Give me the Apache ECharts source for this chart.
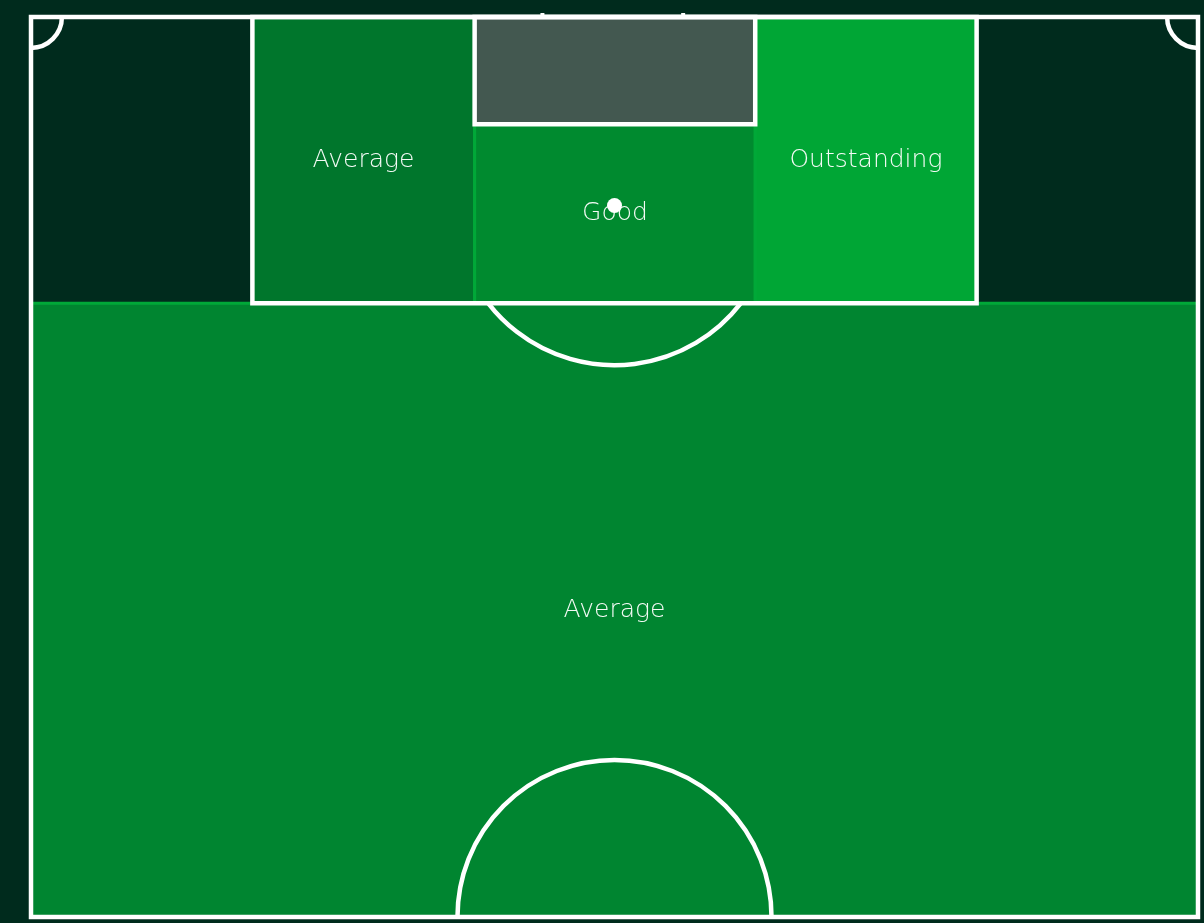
<!DOCTYPE html>
<html>
<head>
<meta charset="utf-8">
<script src="https://cdn.jsdelivr.net/npm/echarts@6/dist/echarts.min.js"></script>
<style>
	html, body { margin: 0; padding: 0; background: #002b1d; }
	#main { width: 1204px; height: 923px; }
</style>
</head>
<body>
<div id="main"></div>
<script>
	// zones of the attacking half, in pitch metres (x across, y from goal line)
	var zoneNames = ['Left channel', 'Central box', 'Right channel', 'Six-yard box', 'Outside box'];
	var zoneRatings = ['Average', 'Good', 'Outstanding', '', 'Average'];
	var zoneX0 = [12.9, 25.85, 42.2, 25.85, 0];
	var zoneX1 = [25.85, 42.2, 55.1, 42.2, 68];
	var zoneY0 = [0, 6.25, 0, 0, 16.7];
	var zoneY1 = [16.7, 16.7, 16.7, 6.25, 52.5];

	var zoneColors = ['#00762c', '#008a2f', '#00a635', '#435850', '#008530'];

	// pitch markings (metres)
	var pitchWidth = 68;
	var halfLength = 52.5;
	var penaltyBox = [12.9, 55.1, 16.7];
	var sixYardBox = [25.85, 42.2, 6.25];
	var penaltySpot = [34, 11];
	var arcRadius = 9.3;
	var centreRadius = 9.15;
	var cornerRadius = 1.8;
	var goalPosts = [29.8, 38.0];

	var zoneData = zoneNames.map(function (n, i) {
		return [zoneX0[i], zoneY0[i], zoneX1[i], zoneY1[i], zoneRatings[i], n];
	});

	var myChart = echarts.init(document.getElementById('main'));
	myChart.setOption({
		backgroundColor: '#002b1d',
		animation: false,
		grid: {
			left: 31,
			right: 6,
			top: 17,
			bottom: 6
		},
		xAxis: {
			type: 'value',
			min: 0,
			max: pitchWidth,
			show: false
		},
		yAxis: {
			type: 'value',
			min: 0,
			max: halfLength,
			inverse: true,
			show: false
		},
		tooltip: { show: false },
		series: [
			{
				name: 'zones',
				type: 'custom',
				data: zoneData,
				encode: { x: [0, 2], y: [1, 3] },
				renderItem: function (params, api) {
					var i = params.dataIndex;
					var p0 = api.coord([zoneX0[i], zoneY0[i]]);
					var p1 = api.coord([zoneX1[i], zoneY1[i]]);
					var x = Math.min(p0[0], p1[0]), y = Math.min(p0[1], p1[1]);
					var w = Math.abs(p1[0] - p0[0]), h = Math.abs(p1[1] - p0[1]);
					return {
						type: 'group',
						children: [
							{
								type: 'rect',
								shape: { x: x, y: y, width: w, height: h },
								style: {
									fill: zoneColors[i],
									stroke: zoneRatings[i] ? '#00a838' : null,
									lineWidth: 3
								}
							},
							{
								type: 'text',
								style: {
									text: zoneRatings[i],
									x: x + w / 2,
									y: y + h / 2,
									align: 'center',
									verticalAlign: 'middle',
									fill: '#f4fbf6',
									font: '200 25px "DejaVu Sans"'
								}
							}
						]
					};
				}
			},
			{
				name: 'pitch',
				type: 'custom',
				data: [[0, 0]],
				silent: true,
				renderItem: function (params, api) {
					var line = { fill: null, stroke: '#ffffff', lineWidth: 4.5 };
					function box(x0, x1, y0, y1) {
						var a = api.coord([x0, y0]), b = api.coord([x1, y1]);
						return {
							type: 'rect',
							shape: { x: a[0], y: a[1], width: b[0] - a[0], height: b[1] - a[1] },
							style: line
						};
					}
					var spot = api.coord(penaltySpot);
					var rArc = api.size([arcRadius, 0])[0];
					var dy = api.size([0, penaltyBox[2] - penaltySpot[1]])[1];
					var a0 = Math.asin(Math.min(1, dy / rArc));
					var centre = api.coord([pitchWidth / 2, halfLength]);
					var rCentre = api.size([centreRadius, 0])[0];
					var rCorner = api.size([cornerRadius, 0])[0];
					var tl = api.coord([0, 0]), tr = api.coord([pitchWidth, 0]);
					var g0 = api.coord([goalPosts[0], 0]), g1 = api.coord([goalPosts[1], 0]);
					return {
						type: 'group',
						children: [
							box(0, pitchWidth, 0, halfLength),
							box(penaltyBox[0], penaltyBox[1], 0, penaltyBox[2]),
							box(sixYardBox[0], sixYardBox[1], 0, sixYardBox[2]),
							{
								type: 'arc',
								shape: { cx: spot[0], cy: spot[1], r: rArc, startAngle: a0, endAngle: Math.PI - a0, clockwise: true },
								style: line
							},
							{
								type: 'arc',
								shape: { cx: centre[0], cy: centre[1], r: rCentre, startAngle: Math.PI, endAngle: 2 * Math.PI, clockwise: true },
								style: line
							},
							{
								type: 'arc',
								shape: { cx: tl[0], cy: tl[1], r: rCorner, startAngle: 0, endAngle: Math.PI / 2, clockwise: true },
								style: line
							},
							{
								type: 'arc',
								shape: { cx: tr[0], cy: tr[1], r: rCorner, startAngle: Math.PI / 2, endAngle: Math.PI, clockwise: true },
								style: line
							},
							{
								type: 'circle',
								shape: { cx: spot[0], cy: spot[1], r: 7.5 },
								style: { fill: '#ffffff' }
							},
							{
								type: 'line',
								shape: { x1: g0[0], y1: g0[1] - 4, x2: g0[0], y2: g0[1] },
								style: { stroke: '#ffffff', lineWidth: 4 }
							},
							{
								type: 'line',
								shape: { x1: g1[0], y1: g1[1] - 4, x2: g1[0], y2: g1[1] },
								style: { stroke: '#ffffff', lineWidth: 4 }
							}
						]
					};
				}
			}
		]
	});
</script>
</body>
</html>
